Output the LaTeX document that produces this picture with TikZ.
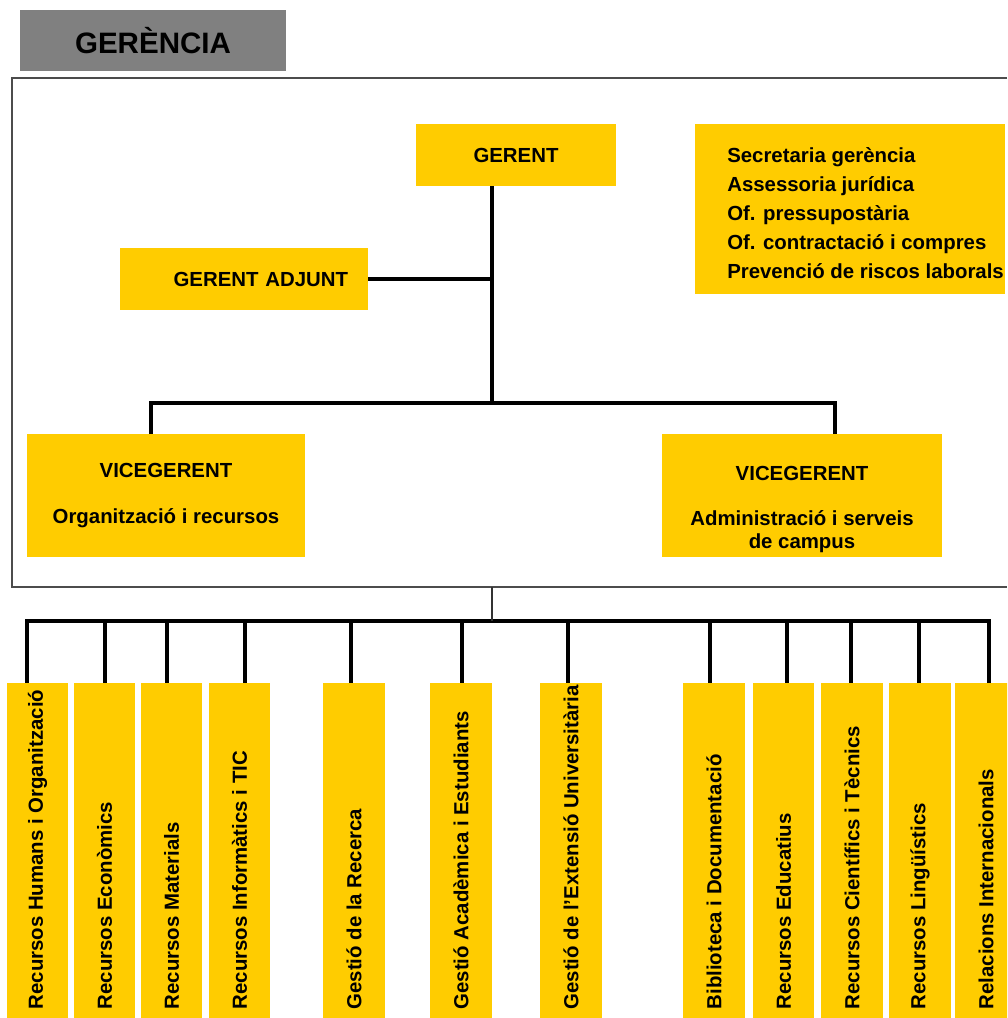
\documentclass[tikz,border=0pt]{standalone}
\usepackage{fontspec}
\setmainfont{Liberation Sans}
\definecolor{groc}{HTML}{FFCC00}
\definecolor{gris}{HTML}{808080}

\begin{document}
\begin{tikzpicture}[x=0.025cm, y=-0.025cm,
    caixa/.style={fill=groc, inner sep=0pt, font=\bfseries\fontsize{14.5}{20.5}\selectfont},
    linia/.style={line width=2.8pt, black},
    marc/.style={line width=1.4pt, black!70},
    fina/.style={line width=1pt, black!80}]
    \useasboundingbox (0,0) rectangle (1007,1018);
    \clip (0,0) rectangle (1007,1018);

    % Titol
    \node[fill=gris, minimum width=6.65cm, minimum height=1.525cm, font=\bfseries\fontsize{21}{25}\selectfont] (titol) at (153,40.5) {GERÈNCIA};

    % Marc
    \draw[marc] (1007,78) -- (12,78) -- (12,587) -- (1007,587);

    % Gerent
    \node[caixa, minimum width=5cm, minimum height=1.55cm] (gerent) at (516,155) {GERENT};
    \node[caixa, minimum width=6.2cm, minimum height=1.55cm, text width=5.2cm, inner xsep=0.5cm, align=right] (adjunt) at (244,279) {GERENT ADJUNT};
    \node[caixa, minimum width=7.75cm, minimum height=4.25cm] (secretaria) at (850,209) {};
    \node[caixa, fill=none, anchor=west, align=left] (serveis) at (727,213) {Secretaria gerència\\Assessoria jurídica\\Of. pressupostària\\Of. contractació i compres\\Prevenció de riscos laborals};

    % Vicegerents
    \node[caixa, minimum width=6.95cm, minimum height=3.075cm, align=center] (vicerec) at (166,495.5) {VICEGERENT\\[12pt]Organització i recursos};
    \node[caixa, minimum width=7cm, minimum height=3.075cm, align=center, font=\bfseries\fontsize{14.5}{16.5}\selectfont] (viceadm) at (802,495.5) {\rule{0pt}{30pt}VICEGERENT\\[16pt]Administració i serveis\\de campus};

    \coordinate (eix) at (492,403);
    \coordinate (vg1) at (151,403);
    \coordinate (vg2) at (835,403);
    \draw[linia] (gerent.south -| eix) -- (eix);
    \draw[linia] (adjunt.east) -- (adjunt.east -| eix);
    \draw[linia, line cap=rect] (vg1) -- (vg2);
    \draw[linia] (vg1) -- (vg1 |- vicerec.north);
    \draw[linia] (vg2) -- (vg2 |- viceadm.north);

    % Serveis
    \foreach \cx/\lx/\nom [count=\i] in {
        37.5/27/{Recursos Humans i Organització},
        104.5/105/{Recursos Econòmics},
        171.5/167/{Recursos Materials},
        239.5/245/{Recursos Informàtics i TIC},
        354/351/{Gestió de la Recerca},
        461/462/{Gestió Acadèmica i Estudiants},
        571/568/{Gestió de l'Extensió Universitària},
        714/710/{Biblioteca i Documentació},
        783.5/787/{Recursos Educatius},
        852/851/{Recursos Científics i Tècnics},
        920/919/{Recursos Lingüístics},
        986/989/{Relacions Internacionals}} {
        \node[caixa, anchor=north, minimum width=1.54cm, minimum height=8.4cm,
            label={[caixa, fill=none, rotate=90, anchor=west, inner xsep=0.25cm]south:\nom}] (r\i) at (\cx,683) {};
        \coordinate (b\i) at (\lx,621);
        \draw[linia] (b\i) -- (b\i |- r\i.north);
    }
    \draw[linia, line cap=rect] (b1) -- (b12);
    \coordinate (m) at (492,587);
    \draw[fina] (m) -- (m |- b1);
\end{tikzpicture}
\end{document}
